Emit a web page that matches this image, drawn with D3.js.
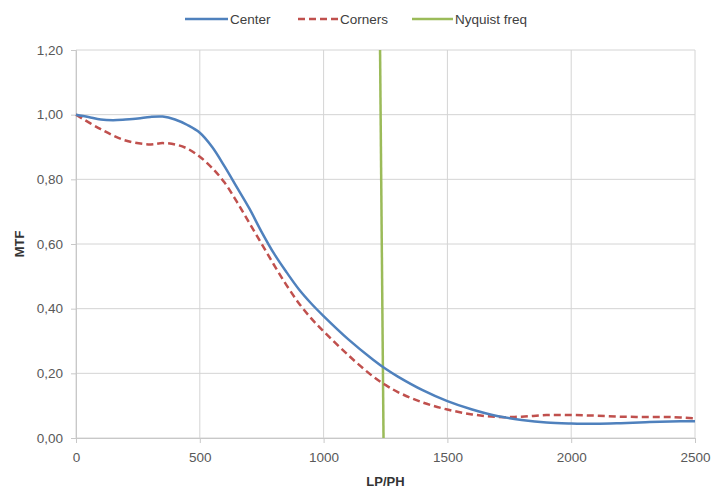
<!DOCTYPE html>
<html>
<head>
<meta charset="utf-8">
<script src="https://cdn.jsdelivr.net/npm/d3@7"></script>
<style>
  body { margin: 0; background: #fff; }
  text { font-family: "Liberation Sans", Arial, sans-serif; }
</style>
</head>
<body>
<svg id="chart" width="712" height="500"></svg>
<script>
const centerX = [0, 50, 100, 150, 200, 250, 300, 350, 400, 450, 500, 550, 600, 650, 700, 750, 800, 850, 900, 950, 1000, 1100, 1200, 1250, 1300, 1400, 1500, 1600, 1700, 1800, 1900, 2000, 2100, 2200, 2300, 2400, 2500];
const centerY = [1.00, 0.993, 0.985, 0.983, 0.985, 0.988, 0.993, 0.994, 0.985, 0.968, 0.944, 0.90, 0.84, 0.775, 0.71, 0.637, 0.57, 0.513, 0.46, 0.416, 0.377, 0.305, 0.242, 0.214, 0.19, 0.148, 0.114, 0.088, 0.068, 0.056, 0.048, 0.045, 0.044, 0.046, 0.049, 0.051, 0.052];
const cornersX = [0, 100, 200, 300, 350, 400, 450, 500, 550, 600, 650, 700, 750, 800, 850, 900, 950, 1000, 1100, 1200, 1250, 1300, 1400, 1500, 1600, 1700, 1800, 1900, 2000, 2100, 2200, 2300, 2400, 2500];
const cornersY = [1.00, 0.955, 0.92, 0.908, 0.912, 0.908, 0.895, 0.87, 0.835, 0.79, 0.73, 0.665, 0.60, 0.535, 0.473, 0.417, 0.37, 0.33, 0.256, 0.19, 0.164, 0.142, 0.11, 0.088, 0.073, 0.065, 0.066, 0.071, 0.071, 0.069, 0.066, 0.065, 0.065, 0.061];
const nyquistX = [1228, 1242];
const nyquistY = [1.2, 0];
const xTicks = [0, 500, 1000, 1500, 2000, 2500];
const yTicks = [0, 0.2, 0.4, 0.6, 0.8, 1.0, 1.2];
const seriesNames = ["Center", "Corners", "Nyquist freq"];

const svg = d3.select("#chart");
const mLeft = 76, mRight = 695, mTop = 50, mBottom = 438;
const x = d3.scaleLinear().domain([0, 2500]).range([mLeft, mRight]);
const y = d3.scaleLinear().domain([0, 1.2]).range([mBottom, mTop]);
const gridColor = "#d4d4d4";
const labelColor = "#595959";

// gridlines
svg.append("g").selectAll("line").data(yTicks).join("line")
  .attr("x1", mLeft).attr("x2", mRight)
  .attr("y1", d => y(d)).attr("y2", d => y(d))
  .attr("stroke", gridColor).attr("stroke-width", 1);
svg.append("g").selectAll("line").data(xTicks).join("line")
  .attr("x1", d => x(d)).attr("x2", d => x(d))
  .attr("y1", mTop).attr("y2", mBottom)
  .attr("stroke", gridColor).attr("stroke-width", 1);

// axes
const fmt = d => d3.format(".2f")(d).replace(".", ",");
const yAxis = svg.append("g").attr("transform", `translate(${mLeft},0)`)
  .call(d3.axisLeft(y).tickValues(yTicks).tickFormat(fmt).tickSize(5).tickPadding(8));
const xAxis = svg.append("g").attr("transform", `translate(0,${mBottom})`)
  .call(d3.axisBottom(x).tickValues(xTicks).tickFormat(d3.format("d")).tickSize(5).tickPadding(9));
[xAxis, yAxis].forEach(a => {
  a.select(".domain").attr("stroke", "#c8c8c8");
  a.selectAll(".tick line").attr("stroke", "#c8c8c8");
  a.selectAll(".tick text").attr("fill", labelColor).style("font-size", "13.5px");
});

// axis titles
svg.append("text").attr("x", (mLeft + mRight) / 2).attr("y", 486)
  .attr("text-anchor", "middle").style("font-size", "13px").style("font-weight", "bold")
  .attr("fill", "#333").text("LP/PH");
svg.append("text").attr("transform", `translate(24,${(mTop + mBottom) / 2}) rotate(-90)`)
  .attr("text-anchor", "middle").style("font-size", "13px").style("font-weight", "bold")
  .attr("fill", "#333").text("MTF");

const center = centerX.map((d, i) => [d, centerY[i]]);
const corners = cornersX.map((d, i) => [d, cornersY[i]]);
const nyq = nyquistX.map((d, i) => [d, nyquistY[i]]);

const line = d3.line().x(d => x(d[0])).y(d => y(d[1])).curve(d3.curveCatmullRom.alpha(0.5));
const lineStraight = d3.line().x(d => x(d[0])).y(d => y(d[1]));

svg.append("path").datum(nyq).attr("d", lineStraight)
  .attr("fill", "none").attr("stroke", "#9bbb59").attr("stroke-width", 2.5);
svg.append("path").datum(corners).attr("d", line)
  .attr("fill", "none").attr("stroke", "#c0504d").attr("stroke-width", 2.5)
  .attr("stroke-dasharray", "7,4");
svg.append("path").datum(center).attr("d", line)
  .attr("fill", "none").attr("stroke", "#4f81bd").attr("stroke-width", 2.5);

// legend
const legend = [
  { name: seriesNames[0], color: "#4f81bd", dash: null, x: 185, w: 43 },
  { name: seriesNames[1], color: "#c0504d", dash: "7,4", x: 298, w: 40 },
  { name: seriesNames[2], color: "#9bbb59", dash: null, x: 412, w: 41 }
];
const lg = svg.append("g");
legend.forEach(l => {
  lg.append("line").attr("x1", l.x).attr("x2", l.x + l.w).attr("y1", 19).attr("y2", 19)
    .attr("stroke", l.color).attr("stroke-width", 2.5).attr("stroke-dasharray", l.dash);
  lg.append("text").attr("x", l.x + l.w + 2).attr("y", 24).style("font-size", "13.5px")
    .attr("fill", "#404040").text(l.name);
});
</script>
</body>
</html>
